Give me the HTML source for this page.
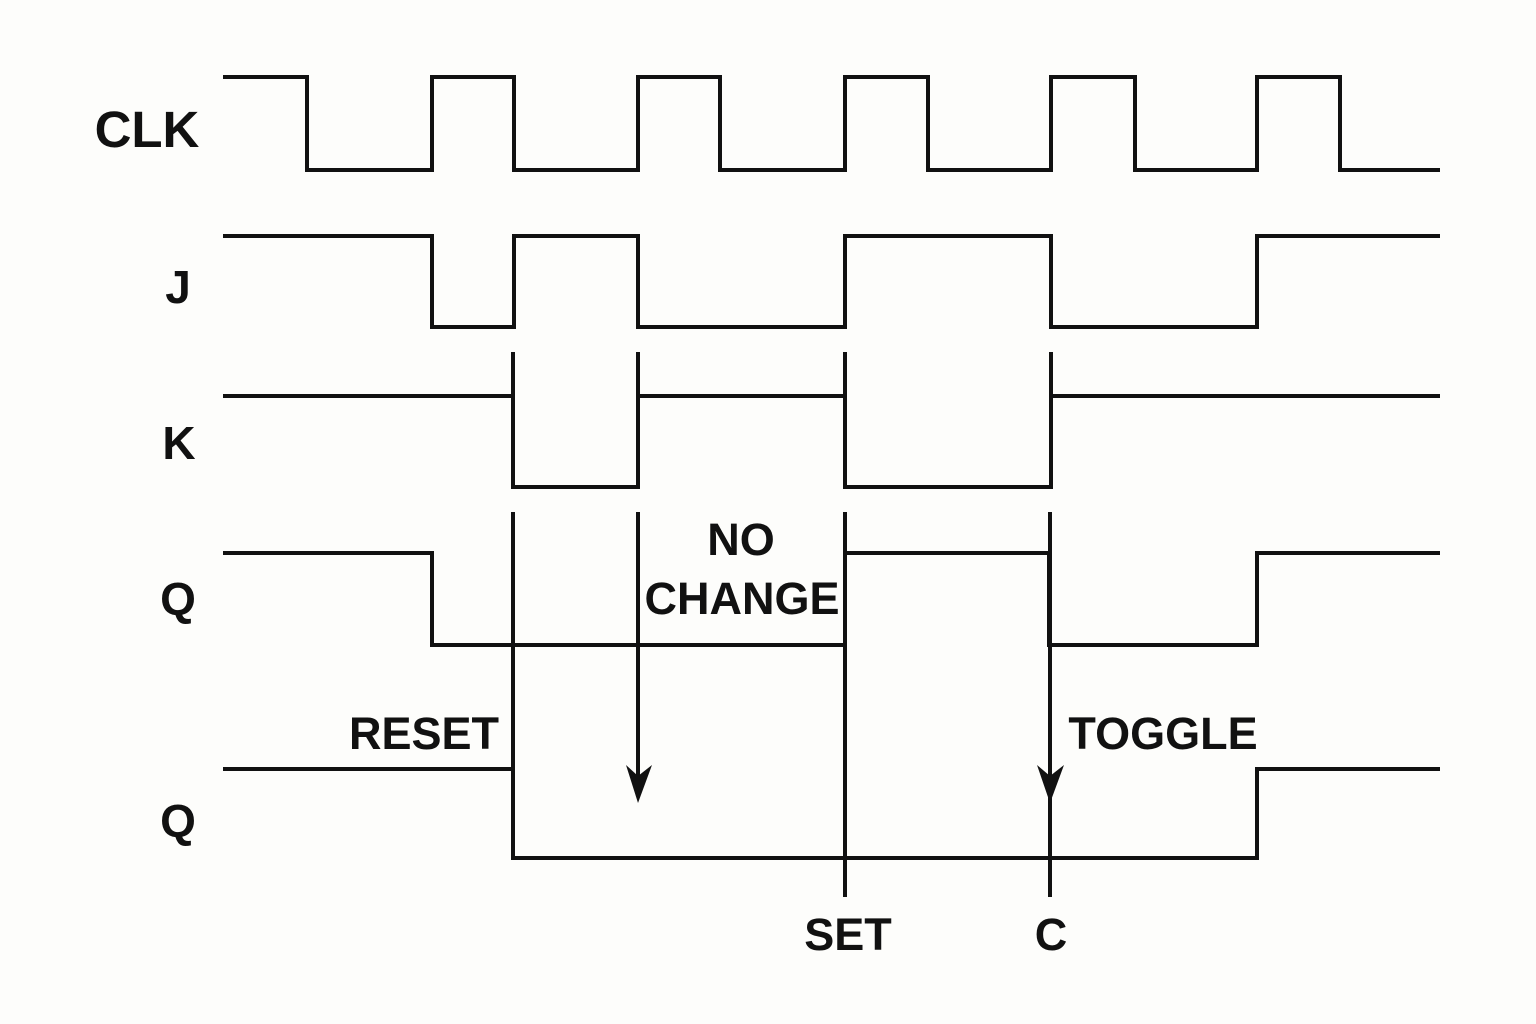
<!DOCTYPE html>
<html><head><style>html,body{margin:0;padding:0;background:#fdfdfb;}svg{display:block}</style></head>
<body>
<svg width="1536" height="1024" viewBox="0 0 1536 1024" xmlns="http://www.w3.org/2000/svg">
<g fill="none" stroke="#111" stroke-width="4" stroke-linejoin="miter">
<path d="M223 77H307V170H432V77H514V170H638V77H720V170H845V77H928V170H1051V77H1135V170H1257V77H1340V170H1440"/>
<path d="M223 236H432V327H514V236H638V327H845V236H1051V327H1257V236H1440"/>
<path d="M223 396H513V487H638V396H845V487H1051V396H1440"/>
<path d="M513 352V396M638 352V396M845 352V396M1051 352V396"/>
<path d="M223 553H432V645H845V553H1049V645H1257V553H1440"/>
<path d="M223 769H513V858H1257V769H1440"/>
<path d="M513 512V769M638 512V790M845 512V897M1050 512V897"/>
</g>
<g fill="#111">
<path d="M626 765L638 803L652 765L638 776Z"/>
<path d="M1037 765L1050 803L1064 765L1050 776Z"/>
</g>
<g font-family="Liberation Sans, sans-serif" font-weight="bold" fill="#111" text-anchor="middle">
<text x="147" y="147" font-size="51">CLK</text>
<text x="178" y="303" font-size="46">J</text>
<text x="179" y="459" font-size="46">K</text>
<text x="178" y="615" font-size="46">Q</text>
<text x="178" y="837" font-size="46">Q</text>
<text x="424" y="749" font-size="45">RESET</text>
<text x="741" y="555" font-size="45">NO</text>
<text x="742" y="614" font-size="45">CHANGE</text>
<text x="1163" y="749" font-size="45">TOGGLE</text>
<text x="848" y="950" font-size="45">SET</text>
<text x="1051" y="950" font-size="45">C</text>
</g>
</svg>
</body></html>
